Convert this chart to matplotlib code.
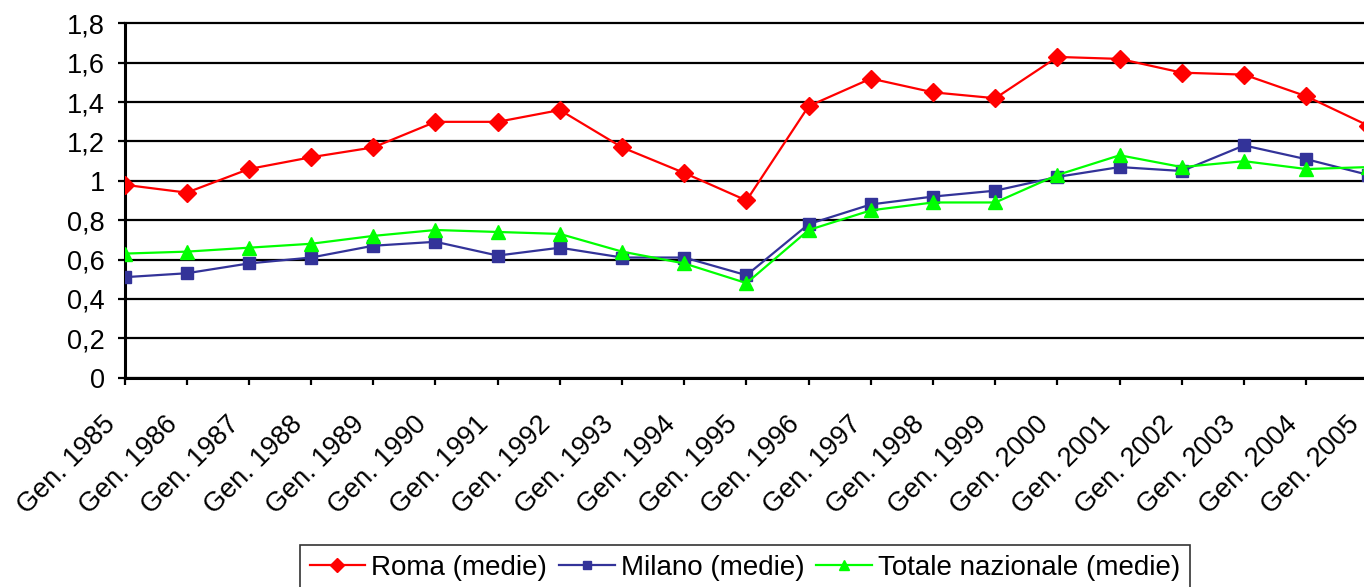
import matplotlib.pyplot as plt
from matplotlib.ticker import FuncFormatter
from matplotlib.transforms import ScaledTranslation

plt.rcParams['font.family'] = ['Liberation Sans', 'DejaVu Sans']

years = [f"Gen. {y}" for y in range(1985, 2006)]
roma = [0.98, 0.94, 1.06, 1.12, 1.17, 1.30, 1.30, 1.36, 1.17, 1.04, 0.90,
        1.38, 1.52, 1.45, 1.42, 1.63, 1.62, 1.55, 1.54, 1.43, 1.28]
milano = [0.51, 0.53, 0.58, 0.61, 0.67, 0.69, 0.62, 0.66, 0.61, 0.61, 0.52,
          0.78, 0.88, 0.92, 0.95, 1.02, 1.07, 1.05, 1.18, 1.11, 1.03]
totale = [0.63, 0.64, 0.66, 0.68, 0.72, 0.75, 0.74, 0.73, 0.64, 0.58, 0.48,
          0.75, 0.85, 0.89, 0.89, 1.03, 1.13, 1.07, 1.10, 1.06, 1.07]

W, H = 1364, 587
fig = plt.figure(figsize=(W / 100, H / 100), dpi=100)
ax = fig.add_axes([124.5 / W, 209.5 / H, (1368.5 - 124.5) / W, 354 / H])

x = list(range(len(years)))
ax.plot(x, roma, color='#FF0000', lw=1.6, marker='D', ms=9, label='Roma (medie)', zorder=5)
ax.plot(x, milano, color='#333399', lw=1.6, marker='s', ms=8.5, label='Milano (medie)', zorder=4)
ax.plot(x, totale, color='#00FF00', lw=1.6, marker='^', ms=10, label='Totale nazionale (medie)', zorder=4)

ax.set_xlim(0, len(years) - 1)
ax.set_ylim(0, 1.8)
ax.set_yticks([i * 0.2 for i in range(10)])
ax.yaxis.set_major_formatter(FuncFormatter(lambda v, p: f"{v:.1f}".rstrip('0').rstrip('.').replace('.', ',') if v else "0"))
ax.yaxis.grid(True, color='black', lw=1.6)
ax.set_axisbelow(True)

ax.set_xticks(x)
ax.set_xticklabels(years, rotation=45, ha='right', va='top', rotation_mode='anchor')
ax.tick_params(axis='both', labelsize=19.5, length=5, width=1.6, color='black')
ax.tick_params(axis='y', pad=9)
ax.tick_params(axis='x', pad=0)
shift = ScaledTranslation(-0.22, -0.265, fig.dpi_scale_trans)
for lbl in ax.get_xticklabels():
    lbl.set_transform(lbl.get_transform() + shift)
for gl in ax.get_ygridlines():
    gl.set_clip_on(False)

for s in ['top', 'right']:
    ax.spines[s].set_visible(False)
for s in ['left', 'bottom']:
    ax.spines[s].set_linewidth(2.2)

leg = fig.legend(loc='upper center', bbox_to_anchor=(745 / W, 1 - 545 / H), ncol=3,
                 fontsize=20, frameon=True, fancybox=False, edgecolor='black',
                 handlelength=2.0, handletextpad=0.22, columnspacing=0.43,
                 borderpad=0.36, borderaxespad=0, markerscale=0.75)
leg.get_frame().set_linewidth(1.2)

fig.savefig('out.png', dpi=100)
